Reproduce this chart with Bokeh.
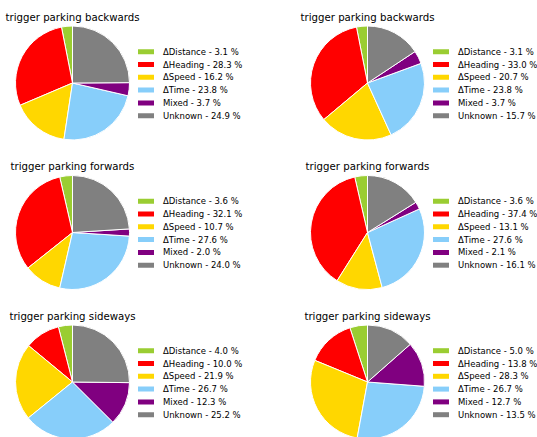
import numpy as np
from bokeh.plotting import figure
from bokeh.models import Range1d, ColumnDataSource
from bokeh.embed import file_html
from bokeh.resources import INLINE
from bokeh.core.properties import value

categories = ["ΔDistance", "ΔHeading", "ΔSpeed", "ΔTime", "Mixed", "Unknown"]
colors = ["#9ACD32", "#FF0000", "#FFD700", "#87CEFA", "#800080", "#808080"]
titles = ["trigger parking backwards", "trigger parking backwards",
          "trigger parking forwards", "trigger parking forwards",
          "trigger parking sideways", "trigger parking sideways"]
backwards_left = [3.1, 28.3, 16.2, 23.8, 3.7, 24.9]
backwards_right = [3.1, 33.0, 20.7, 23.8, 3.7, 15.7]
forwards_left = [3.6, 32.1, 10.7, 27.6, 2.0, 24.0]
forwards_right = [3.6, 37.4, 13.1, 27.6, 2.1, 16.1]
sideways_left = [4.0, 10.0, 21.9, 26.7, 12.3, 25.2]
sideways_right = [5.0, 13.8, 28.3, 26.7, 12.7, 13.5]

charts = [backwards_left, backwards_right, forwards_left,
          forwards_right, sideways_left, sideways_right]

# layout (screen pixels in the 537x437 picture)
W, H = 537, 437
col_cx = [72.0, 367.0]
row_cy = [82.5, 232.0, 381.5]
R = 57.0
FONT = value("DejaVu Sans")


def Y(ys):
    return H - ys


p = figure(width=W, height=H, output_backend="svg", toolbar_location=None,
           x_range=Range1d(0, W), y_range=Range1d(0, H),
           x_axis_type=None, y_axis_type=None, min_border=0,
           outline_line_color=None, background_fill_color="white",
           border_fill_color="white")
p.xgrid.visible = False
p.ygrid.visible = False

for k, vals in enumerate(charts):
    cx = col_cx[k % 2]
    cy = row_cy[k // 2]
    v = np.array(vals, dtype=float)
    frac = v / v.sum()
    cum = np.concatenate([[0.0], np.cumsum(frac)])
    start = np.pi / 2 + 2 * np.pi * cum[:-1]
    end = np.pi / 2 + 2 * np.pi * cum[1:]
    src = ColumnDataSource(dict(x=[cx] * len(v), y=[Y(cy)] * len(v),
                                start=start, end=end, color=colors))
    p.wedge(x="x", y="y", radius=R, start_angle="start", end_angle="end",
            fill_color="color", line_color="white", line_width=1, source=src)

    # title
    p.text(x=[cx], y=[Y(cy - 66.0)], text=[titles[k]], text_font=FONT,
           text_font_size="10.2px", text_align="center",
           text_baseline="alphabetic", text_color="#000000")

    # legend
    ly = [Y(cy + 0.7 + (i - 2.5) * 12.8) for i in range(len(v))]
    px = cx + 73.5
    lsrc = ColumnDataSource(dict(
        px=[px] * len(v), tx=[cx + 90.5] * len(v), y=ly, color=colors,
        label=[f"{c} - {val:.1f} %" for c, val in zip(categories, vals)]))
    p.rect(x="px", y="y", width=16, height=5, fill_color="color",
           line_color=None, source=lsrc)
    p.text(x="tx", y="y", text="label", text_font=FONT,
           text_font_size="8.5px", text_align="left",
           text_baseline="middle", text_color="#000000", source=lsrc)

open("out.html", "w").write(file_html(p, INLINE))
